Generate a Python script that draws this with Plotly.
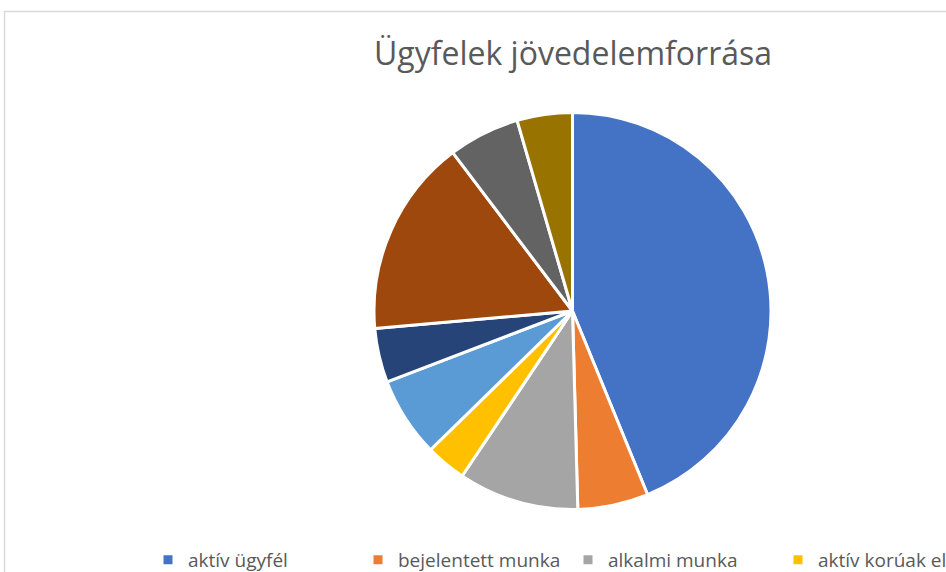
import plotly.graph_objects as go

labels = ["aktív ügyfél", "bejelentett munka", "alkalmi munka", "aktív korúak ellátása",
          "lakásfenntartási támogatás", "rendszeres szociális segély", "nyugellátás",
          "családtámogatás", "egyéb"]
values = [43.8, 5.75, 9.8, 3.3, 6.5, 4.4, 16.1, 5.8, 4.5]
colors = ["#4472C4", "#ED7D31", "#A5A5A5", "#FFC000", "#5B9BD5",
          "#264478", "#9E480E", "#636363", "#997300"]

W, H = 2200, 700
cx, cy, r = 572.5, 311, 198.5

fig = go.Figure(go.Pie(
    labels=labels, values=values, sort=False, direction="clockwise", rotation=0,
    marker=dict(colors=colors, line=dict(color="white", width=3)),
    textinfo="none", hoverinfo="label+percent",
    domain=dict(x=[(cx - r) / W, (cx + r) / W], y=[(H - cy - r) / H, (H - cy + r) / H]),
))

fig.update_layout(
    width=W, height=H,
    margin=dict(l=0, r=0, t=0, b=0, autoexpand=False),
    paper_bgcolor="white",
    title=dict(text="Ügyfelek jövedelemforrása", x=573 / W, xanchor="center",
               y=1 - 54 / H, yanchor="middle",
               font=dict(family="Open Sans", size=32, color="#595959")),
    showlegend=True,
    legend=dict(orientation="h", x=148 / W, xanchor="left", y=1 - 541 / H, yanchor="top",
                entrywidth=165, entrywidthmode="pixels",
                font=dict(family="Open Sans", size=19, color="#595959"),
                traceorder="normal"),
    shapes=[dict(type="rect", xref="paper", yref="paper",
                 x0=4.5 / W, x1=1.2, y0=-0.2, y1=1 - 11.5 / H,
                 line=dict(color="#D9D9D9", width=1.5), layer="below")],
)

fig.write_html("out.html", post_script="document.body.style.margin='0';document.body.style.overflow='hidden';")
